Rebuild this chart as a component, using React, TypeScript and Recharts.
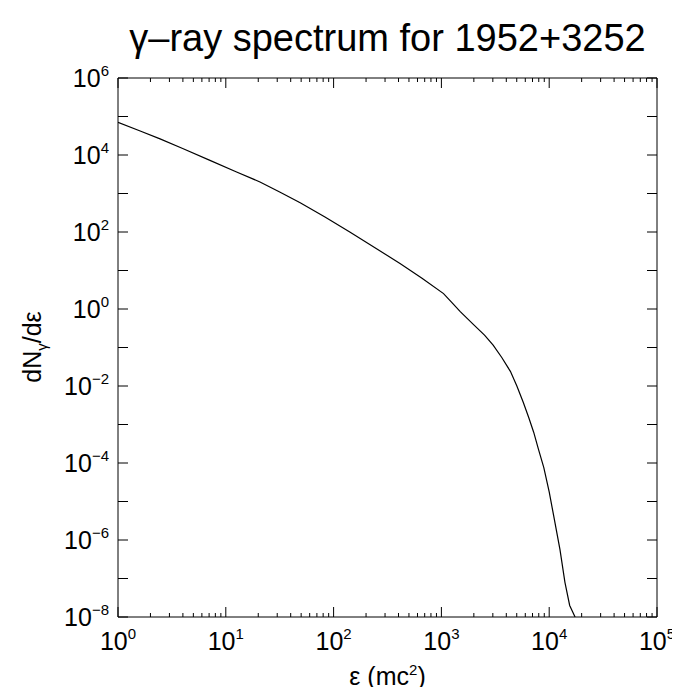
import React from "react";
import { LineChart, Line, XAxis, YAxis } from "recharts";

// Photon energy (units of mc^2)
const energy = [
  1, 1.585, 2.455, 3.981, 7.129, 12.59, 20.75, 31.62, 48.98, 83.18, 141.3, 239.9,
  413, 660.7, 1047, 1259, 1496, 1977, 2512, 3020, 3631, 4365, 5012, 5754, 6457,
  7178, 7943, 8913, 10000, 10965, 12589, 13996, 15488, 17378,
];
// dN/dε
const flux = [
  70795, 42658, 26303, 14791, 7244, 3631, 1995, 1096, 575.4, 245.5, 100, 39.81,
  15.14, 6.31, 2.512, 1.445, 0.8511, 0.3981, 0.2089, 0.1148, 0.05495, 0.02399,
  0.01, 0.003715, 0.001514, 0.000631, 0.0002291, 0.00007586, 0.00001778,
  0.000004467, 0.0000005623, 0.00000007943, 0.00000001995, 0.00000001,
];

const xMajorTicks = [1, 10, 100, 1000, 10000, 100000];
const xMinorMultipliers = [2, 3, 4, 5, 6, 7, 8, 9];
const yTicks = [
  1e-8, 1e-7, 1e-6, 1e-5, 1e-4, 1e-3, 1e-2, 1e-1, 1, 10, 100, 1000, 1e4, 1e5,
  1e6,
];

const title = "\u03b3\u2013ray spectrum for 1952+3252";

const data = energy.map((x, i) => ({ x, y: flux[i] }));

const xTicks: number[] = [];
xMajorTicks.forEach((m, i) => {
  xTicks.push(m);
  if (i < xMajorTicks.length - 1) xMinorMultipliers.forEach((k) => xTicks.push(m * k));
});
xTicks.sort((a, b) => a - b);

const FONT = "'Liberation Sans', Arial, Helvetica, sans-serif";
const MAJOR = 10;
const MINOR = 4;

const expOf = (v: number) => Math.round(Math.log10(v));
const isDecade = (v: number) => Math.abs(Math.log10(v) - expOf(v)) < 1e-9;
const supText = (e: number) => (e < 0 ? "\u2212" + Math.abs(e) : String(e));

const BottomTick = (props: any) => {
  const { x, y, payload } = props;
  const v = payload.value;
  const major = isDecade(v);
  return (
    <g>
      <line x1={x} x2={x} y1={y} y2={y - (major ? MAJOR : MINOR)} stroke="#000" strokeWidth={1} />
      {major && (
        <text x={x} y={y + 33} textAnchor="middle" fontFamily={FONT} fontSize={25} fill="#000">
          <tspan>10</tspan>
          <tspan dy={-11} fontSize={15}>{supText(expOf(v))}</tspan>
        </text>
      )}
    </g>
  );
};

const TopTick = (props: any) => {
  const { x, y, payload } = props;
  const major = isDecade(payload.value);
  return <line x1={x} x2={x} y1={y} y2={y + (major ? MAJOR : MINOR)} stroke="#000" strokeWidth={1} />;
};

const LeftTick = (props: any) => {
  const { x, y, payload } = props;
  const e = expOf(payload.value);
  return (
    <g>
      <line x1={x} x2={x + MAJOR} y1={y} y2={y} stroke="#000" strokeWidth={1} />
      {e % 2 === 0 && (
        <text x={x - 9} y={y + 9} textAnchor="end" fontFamily={FONT} fontSize={25} fill="#000">
          <tspan>10</tspan>
          <tspan dy={-11} fontSize={15}>{supText(e)}</tspan>
        </text>
      )}
    </g>
  );
};

const RightTick = (props: any) => {
  const { x, y } = props;
  return <line x1={x} x2={x - MAJOR} y1={y} y2={y} stroke="#000" strokeWidth={1} />;
};

export default function App() {
  return (
    <div style={{ position: "relative", width: 672, height: 679 }}>
      <LineChart width={672} height={679} data={data} margin={{ top: 0, right: 0, bottom: 0, left: 0 }}>
        <XAxis
          xAxisId="bottom"
          dataKey="x"
          type="number"
          scale="log"
          domain={[1, 100000]}
          allowDataOverflow
          ticks={xTicks}
          interval={0}
          orientation="bottom"
          height={70}
          tickSize={0}
          tickMargin={0}
          tick={<BottomTick />}
          tickLine={false}
          axisLine={{ stroke: "#000", strokeWidth: 1 }}
        />
        <XAxis
          xAxisId="top"
          dataKey="x"
          type="number"
          scale="log"
          domain={[1, 100000]}
          allowDataOverflow
          ticks={xTicks}
          interval={0}
          orientation="top"
          height={70}
          tickSize={0}
          tickMargin={0}
          tick={<TopTick />}
          tickLine={false}
          axisLine={{ stroke: "#000", strokeWidth: 1 }}
        />
        <YAxis
          yAxisId="left"
          type="number"
          scale="log"
          domain={[1e-8, 1e6]}
          allowDataOverflow
          ticks={yTicks}
          interval={0}
          orientation="left"
          width={110}
          tickSize={0}
          tickMargin={0}
          tick={<LeftTick />}
          tickLine={false}
          axisLine={{ stroke: "#000", strokeWidth: 1 }}
        />
        <YAxis
          yAxisId="right"
          type="number"
          scale="log"
          domain={[1e-8, 1e6]}
          allowDataOverflow
          ticks={yTicks}
          interval={0}
          orientation="right"
          width={23}
          tickSize={0}
          tickMargin={0}
          tick={<RightTick />}
          tickLine={false}
          axisLine={{ stroke: "#000", strokeWidth: 1 }}
        />
        <Line
          xAxisId="bottom"
          yAxisId="left"
          dataKey="y"
          type="linear"
          stroke="#000"
          strokeWidth={1.2}
          dot={false}
          isAnimationActive={false}
        />
        <Line
          xAxisId="top"
          yAxisId="right"
          dataKey="y"
          type="linear"
          stroke="none"
          strokeOpacity={0}
          dot={false}
          isAnimationActive={false}
        />
      </LineChart>
      <svg
        width={672}
        height={687}
        style={{ position: "absolute", left: 0, top: 0, pointerEvents: "none" }}
      >
        <text x={379.5} y={43} textAnchor="middle" fontFamily={FONT} fontSize={38} fill="#000">
          {title}
        </text>
        <text x={379.5} y={677} textAnchor="middle" fontFamily={FONT} fontSize={25} fill="#000">
          <tspan>{"\u03b5 (mc"}</tspan>
          <tspan dy={-10} fontSize={15}>2</tspan>
          <tspan dy={10}>)</tspan>
        </text>
        <text
          x={0}
          y={0}
          transform="translate(33,339) rotate(-90)"
          textAnchor="middle"
          fontFamily={FONT}
          fontSize={25}
          fill="#000"
        >
          <tspan>dN</tspan>
          <tspan dy={6} fontSize={15}>{"\u03b3"}</tspan>
          <tspan dy={-6}>{"/d\u03b5"}</tspan>
        </text>
      </svg>
    </div>
  );
}
